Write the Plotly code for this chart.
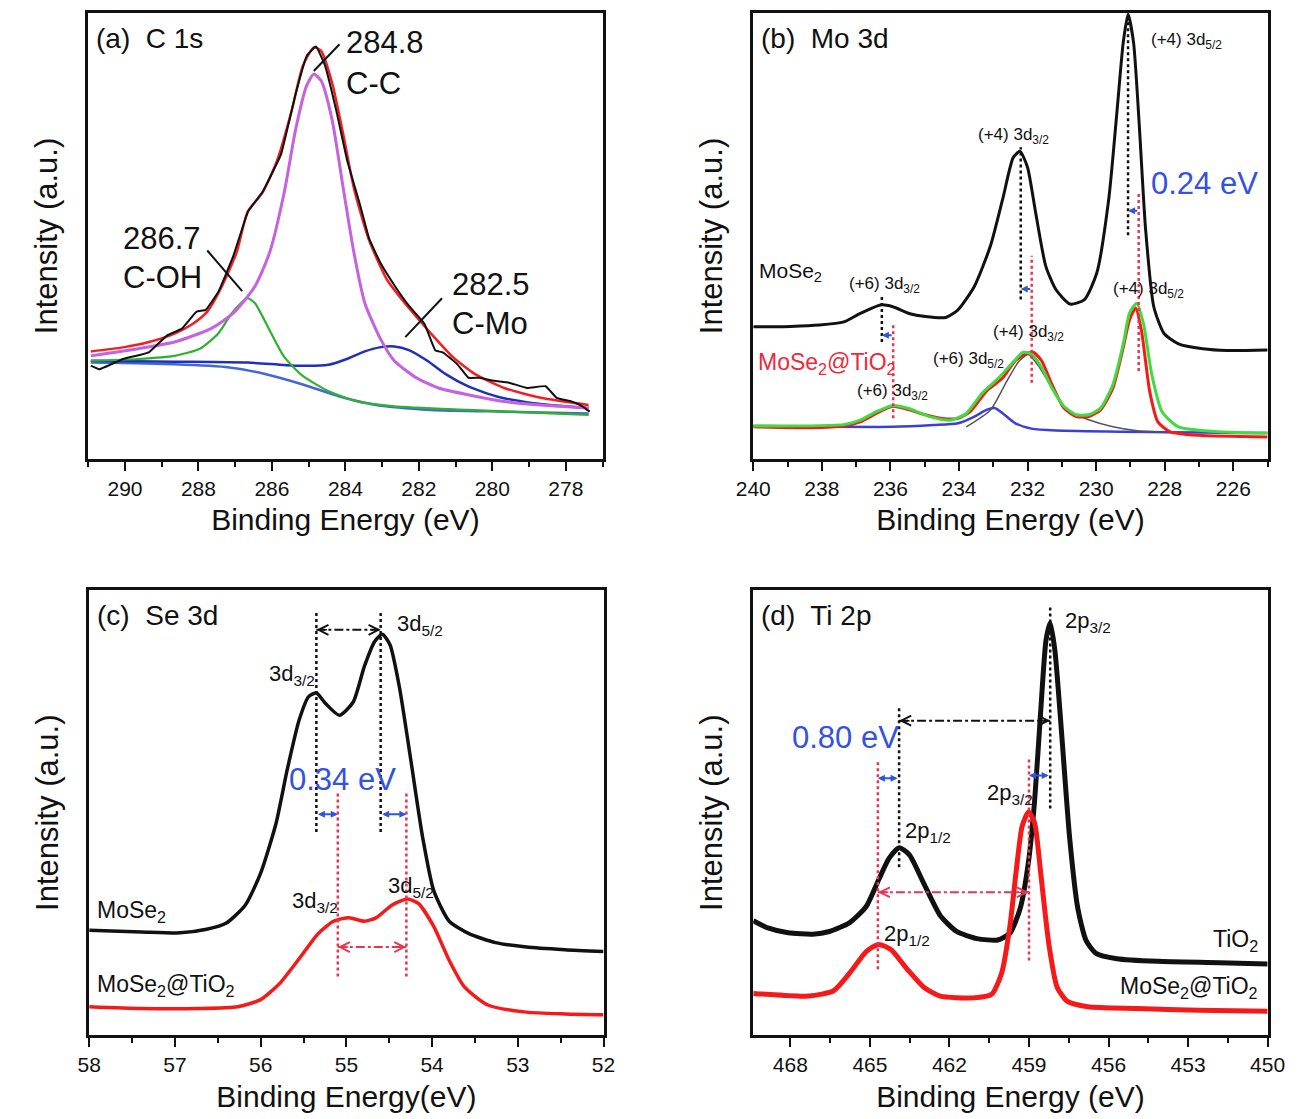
import plotly.graph_objects as go

# ---------------- data ----------------
# (a) C 1s
a_ev_raw = [290.93, 290.7, 290.05, 289.35, 288.85, 288.45, 288.05, 287.8, 287.45, 287.05, 286.65, 286.25,
            285.75, 285.35, 285.05, 284.8, 284.55, 284.25, 283.95, 283.6, 283.35, 283.05, 282.65, 282.25,
            281.85, 281.55, 281.35, 280.95, 280.65, 280.35, 279.95, 279.55, 279.05, 278.55, 278.25, 277.85,
            277.55, 277.35]
a_raw = [20.9, 20.1, 22.4, 23.9, 27.7, 29.2, 33.0, 33.4, 37.6, 45.5, 55.4, 59.9, 68.3, 81.9, 90.3, 92.4,
         88.0, 78.1, 66.8, 56.9, 49.3, 44.0, 38.7, 34.1, 30.3, 24.3, 23.9, 21.2, 18.2, 18.2, 17.5, 17.1,
         15.9, 16.3, 13.7, 12.9, 11.8, 10.6]
a_ev_fit = [290.93, 290.05, 289.35, 288.65, 288.15, 287.76, 287.36, 286.96, 286.66, 286.26, 285.86, 285.46,
            285.16, 284.86, 284.66, 284.36, 284.06, 283.77, 283.37, 282.87, 282.27, 281.67, 281.07, 280.47,
            279.68, 278.68, 277.38]
a_fit = [24.1, 25.0, 26.2, 28.1, 30.3, 33.0, 38.7, 46.3, 55.4, 59.6, 66.8, 78.1, 88.0, 92.2, 91.4, 84.2,
         72.8, 60.7, 49.3, 40.2, 33.8, 28.1, 22.8, 19.0, 15.9, 13.7, 12.1]
a_ev_cc = [290.93, 289.65, 288.65, 287.66, 287.06, 286.46, 286.06, 285.66, 285.36, 285.06, 284.86, 284.66,
           284.36, 284.06, 283.77, 283.47, 283.07, 282.67, 282.07, 281.47, 280.67, 279.68, 278.68, 277.38]
a_cc = [23.1, 24.7, 26.2, 29.2, 32.6, 38.7, 46.3, 59.9, 73.6, 83.5, 86.2, 84.7, 75.9, 60.7, 46.3, 34.9,
        27.3, 22.0, 18.2, 15.9, 14.4, 12.9, 12.1, 11.4]
a_ev_coh = [290.93, 289.65, 288.65, 287.96, 287.46, 287.06, 286.66, 286.46, 286.06, 285.66, 285.16, 284.46,
            283.67, 282.67, 280.67, 277.38]
a_coh = [22.0, 22.4, 23.1, 24.7, 28.1, 33.0, 36.0, 34.9, 28.8, 22.8, 18.6, 15.2, 12.9, 11.8, 11.0, 9.9]
a_ev_cmo = [290.93, 288.65, 286.66, 285.36, 284.46, 283.96, 283.47, 283.07, 282.67, 282.27, 281.77, 281.27,
            280.67, 279.88, 278.88, 277.38]
a_cmo = [22.0, 21.8, 21.6, 20.9, 21.1, 22.4, 24.1, 25.0, 25.2, 24.4, 22.0, 19.0, 16.3, 14.0, 12.5, 11.4]
a_ev_bg = [290.93, 288.65, 287.16, 286.16, 285.16, 284.16, 283.17, 281.67, 279.68, 277.38]
a_bg = [21.6, 21.2, 20.5, 19.0, 16.7, 14.0, 12.1, 11.0, 10.6, 10.2]

# (b) Mo 3d
b_ev_mose2 = [240.0, 238.91, 238.07, 237.36, 236.88, 236.29, 235.93, 235.46, 234.98, 234.39, 234.03, 233.55,
              233.08, 232.72, 232.42, 232.22, 232.0, 231.77, 231.47, 231.17, 230.76, 230.34, 229.98, 229.63,
              229.39, 229.21, 229.07, 228.91, 228.74, 228.56, 228.32, 228.02, 227.6, 226.89, 226.18, 225.0]
b_mose2 = [29.6, 29.7, 30.0, 30.7, 32.6, 34.5, 34.1, 32.6, 31.9, 31.7, 33.4, 38.7, 47.8, 58.4, 67.5, 68.9,
           65.3, 55.4, 43.2, 37.9, 34.7, 35.7, 41.7, 58.4, 78.1, 93.3, 99.6, 93.3, 74.4, 51.6, 34.1, 28.1,
           25.8, 24.7, 24.3, 24.4]
b_ev_comp = [240.0, 238.31, 237.36, 236.88, 236.41, 235.93, 235.46, 234.98, 234.5, 234.03, 233.67, 233.2,
             232.72, 232.36, 232.07, 231.83, 231.59, 231.29, 230.94, 230.58, 230.22, 229.87, 229.51, 229.21,
             229.03, 228.85, 228.68, 228.44, 228.2, 227.84, 227.01, 225.0]
b_comp = [7.2, 7.0, 7.4, 8.3, 10.2, 11.8, 11.0, 9.9, 9.1, 9.1, 10.6, 15.2, 18.2, 22.0, 23.5, 23.9, 22.0,
          16.7, 11.4, 9.5, 9.5, 11.0, 15.9, 25.0, 31.1, 33.8, 28.8, 15.2, 8.3, 6.1, 5.3, 4.9]
b_ev_env = [240.0, 237.36, 236.88, 236.41, 235.93, 235.46, 234.86, 234.27, 233.79, 233.32, 232.84, 232.48,
            232.13, 231.89, 231.59, 231.29, 230.94, 230.58, 230.22, 229.87, 229.51, 229.21, 229.03, 228.82,
            228.62, 228.38, 228.08, 227.6, 226.42, 225.0]
b_env = [7.4, 7.7, 8.7, 10.6, 12.0, 11.3, 9.5, 8.7, 10.2, 14.8, 18.2, 21.2, 23.9, 23.5, 20.5, 15.9, 11.8,
         9.9, 9.9, 11.4, 16.7, 25.8, 32.6, 34.9, 30.3, 19.0, 10.6, 7.2, 6.1, 5.8]
b_ev_mo6 = [240.0, 235.93, 234.74, 234.03, 233.55, 233.2, 232.96, 232.72, 232.36, 231.89, 231.17, 225.0]
b_mo6 = [7.4, 7.2, 7.6, 8.0, 9.5, 11.0, 11.4, 10.2, 8.0, 6.8, 6.4, 5.8]
b_ev_mo4 = [233.79, 233.08, 232.6, 232.24, 231.98, 231.65, 231.29, 230.82, 230.22, 229.51, 228.8, 228.0]
b_mo4 = [7.2, 11.0, 17.5, 22.0, 23.4, 20.5, 15.9, 10.8, 8.8, 7.2, 6.3, 6.0]
b_peaks_mose2 = [236.25, 232.2, 229.07]
b_peaks_tio2 = [235.92, 231.88, 228.76]

# (c) Se 3d
c_ev_mose2 = [58.0, 57.39, 56.94, 56.63, 56.4, 56.18, 56.0, 55.82, 55.69, 55.55, 55.44, 55.35, 55.24, 55.08,
              54.92, 54.79, 54.67, 54.58, 54.49, 54.38, 54.25, 54.11, 53.98, 53.8, 53.57, 53.26, 52.9, 52.45,
              52.0]
c_mose2 = [23.6, 23.2, 23.0, 23.8, 25.2, 29.2, 36.4, 47.6, 59.6, 70.8, 76.0, 76.8, 74.4, 71.8, 74.8, 82.8,
           88.4, 90.0, 87.6, 78.0, 62.0, 44.4, 32.4, 25.6, 22.8, 20.8, 19.8, 19.2, 18.8]
c_ev_comp = [58.0, 57.39, 56.72, 56.27, 56.0, 55.78, 55.55, 55.33, 55.15, 54.97, 54.79, 54.65, 54.47, 54.29,
             54.16, 53.98, 53.8, 53.62, 53.35, 52.9, 52.45, 52.0]
c_comp = [6.4, 6.0, 6.0, 6.4, 8.0, 11.6, 17.2, 22.8, 25.6, 26.4, 25.6, 26.4, 29.2, 30.6, 29.6, 24.4, 16.8,
          10.8, 6.8, 5.2, 4.8, 4.6]
c_peaks_mose2 = [55.35, 54.6]
c_peaks_comp = [55.1, 54.3]

# (d) Ti 2p
d_ev_tio2 = [469.4, 468.85, 468.08, 467.15, 466.53, 465.76, 465.14, 464.67, 464.28, 463.9, 463.51, 462.97,
             462.35, 461.73, 460.96, 460.18, 459.72, 459.33, 459.02, 458.79, 458.56, 458.36, 458.2, 458.02,
             457.78, 457.47, 457.16, 456.85, 456.47, 455.69, 454.15, 451.82, 450.0]
d_tio2 = [25.7, 24.1, 23.0, 22.7, 23.3, 25.3, 28.9, 34.9, 39.7, 42.1, 40.5, 34.1, 26.9, 23.3, 21.7, 21.4,
          22.9, 28.5, 38.9, 52.5, 72.6, 88.6, 92.6, 86.2, 68.6, 44.5, 28.5, 21.3, 18.4, 17.2, 16.6, 16.3, 16.0]
d_ev_comp = [469.4, 468.85, 467.3, 466.37, 465.76, 465.14, 464.67, 464.2, 463.59, 462.97, 462.35, 461.11,
             460.41, 460.03, 459.72, 459.49, 459.26, 459.02, 458.79, 458.56, 458.25, 457.94, 457.55, 456.78,
             454.92, 452.6, 450.0]
d_comp = [9.4, 9.2, 8.8, 10.0, 14.0, 18.8, 20.4, 19.2, 14.8, 10.8, 8.8, 8.4, 9.2, 14.0, 24.5, 36.5, 46.9,
          50.1, 47.7, 36.5, 20.4, 10.8, 7.6, 6.4, 6.0, 5.6, 5.4]
d_peaks_tio2 = [463.9, 458.2]
d_peaks_comp = [464.7, 459.0]

# ---------------- styling ----------------
W, H = 1299, 1119
FONT = "Liberation Sans, Arial, Helvetica, sans-serif"
BLACK = "#111111"
RED = "#f41a1a"
PINK = "#e8344e"
BLUE_TXT = "#3451e0"
ARROW_BLUE = "#2f55d8"

# frame boxes in pixels: left, right, top, bottom
boxes = {
    "": (64, 593, 4.5, 451),
    "2": (748, 1277, 4.5, 451),
    "3": (65, 594, 581.7, 1027.3),
    "4": (748, 1277, 581.7, 1027.3),
}
xranges = {"": [291, 277], "2": [240, 225], "3": [58, 52], "4": [469.4, 450]}
xticks = {"": (2, 1), "2": (2, 1), "3": (1, 0.5), "4": (3, 1.5)}
xtitles = {"": "Binding Energy (eV)", "2": "Binding Energy (eV)",
           "3": "Binding Energy(eV)", "4": "Binding Energy (eV)"}

fig = go.Figure()


def curve(k, xs, ys, color, width, smooth=0.6):
    fig.add_trace(go.Scatter(
        x=xs, y=ys, mode="lines", xaxis="x" + k, yaxis="y" + k,
        line=dict(color=color, width=width, shape="spline", smoothing=smooth),
        showlegend=False, hoverinfo="skip"))


def text(k, x, y, s, size, color=BLACK, xanchor="left"):
    fig.add_annotation(x=x, y=y, xref="x" + k, yref="y" + k, text=s, showarrow=False,
                       xanchor=xanchor, yanchor="middle",
                       font=dict(family=FONT, size=size, color=color))


def vline(k, x, y0, y1, color):
    fig.add_shape(type="line", xref="x" + k, yref="y" + k, x0=x, x1=x, y0=y0, y1=y1,
                  line=dict(color=color, width=2.5, dash="3px,3px"))


def seg(k, x0, y0, x1, y1, color=BLACK, width=2, dash="solid"):
    fig.add_shape(type="line", xref="x" + k, yref="y" + k, x0=x0, x1=x1, y0=y0, y1=y1,
                  line=dict(color=color, width=width, dash=dash))


def shift_arrow(k, x_from, x_to, y, both=True):
    fig.add_annotation(x=x_to, y=y, ax=x_from, ay=y, xref="x" + k, yref="y" + k,
                       axref="x" + k, ayref="y" + k, text="", showarrow=True,
                       arrowhead=2, arrowsize=0.7, arrowwidth=2, arrowcolor=ARROW_BLUE,
                       arrowside="end+start" if both else "end")


def span_arrow(k, x_left, x_right, y, color):
    # dash-dot line with open heads at both ends
    seg(k, x_left, y, x_right, y, color=color, width=2, dash="dashdot")
    for x, off in ((x_left, 12), (x_right, -12)):
        fig.add_annotation(x=x, y=y, ax=off, ay=0, xref="x" + k, yref="y" + k, text="",
                           showarrow=True, arrowhead=5, arrowsize=1.3, arrowwidth=1.5,
                           arrowcolor=color)


# (a) C 1s
curve("", a_ev_bg, a_bg, "#4466dd", 2.5)
curve("", a_ev_cmo, a_cmo, "#2030b8", 2.5)
curve("", a_ev_coh, a_coh, "#2eb12e", 2.2)
curve("", a_ev_cc, a_cc, "#c462e0", 3)
curve("", a_ev_fit, a_fit, "#f02020", 2.5)
curve("", a_ev_raw, a_raw, BLACK, 2, smooth=0.3)
seg("", 284.86, 86.9, 284.16, 92.9)
seg("", 287.76, 46.7, 286.81, 37.6)
seg("", 281.37, 36.0, 282.37, 27.3)
text("", 284.05, 93.2, "284.8", 31)
text("", 284.05, 84.0, "C-C", 31)
text("", 290.1, 49.3, "286.7", 31)
text("", 290.1, 40.6, "C-OH", 31)
text("", 281.15, 39.1, "282.5", 31)
text("", 281.15, 30.3, "C-Mo", 31)

# (b) Mo 3d
curve("2", b_ev_mo6, b_mo6, "#3a3fd8", 2.5)
curve("2", b_ev_mo4, b_mo4, "#555555", 1.5)
curve("2", b_ev_comp, b_comp, RED, 3)
curve("2", b_ev_env, b_env, "#3fdc3f", 3)
curve("2", b_ev_mose2, b_mose2, BLACK, 3)
for x, (y0, y1) in zip(b_peaks_mose2, [(26.2, 36.8), (35.7, 69.8), (50.1, 99.4)]):
    vline("2", x, y0, y1, BLACK)
for x, (y0, y1) in zip(b_peaks_tio2, [(9.1, 30.0), (17.1, 45.5), (19.7, 59.6)]):
    vline("2", x, y0, y1, PINK)
for xb, xr, y in zip(b_peaks_mose2, b_peaks_tio2, [27.7, 38.1, 55.6]):
    shift_arrow("2", xr, xb, y, both=False)
text("2", 228.45, 93.7, "(+4) 3d<sub>5/2</sub>", 17)
text("2", 233.49, 72.3, "(+4) 3d<sub>3/2</sub>", 17)
text("2", 228.45, 61.6, "0.24 eV", 31, BLUE_TXT)
text("2", 239.88, 41.9, "MoSe<sub>2</sub>", 21)
text("2", 237.28, 38.9, "(+6) 3d<sub>3/2</sub>", 17)
text("2", 229.57, 37.9, "(+4) 3d<sub>5/2</sub>", 17)
text("2", 233.08, 28.3, "(+4) 3d<sub>3/2</sub>", 17)
text("2", 234.83, 22.2, "(+6) 3d<sub>5/2</sub>", 17)
text("2", 239.92, 21.4, "MoSe<sub>2</sub>@TiO<sub>2</sub>", 23, "#f0283c")
text("2", 237.03, 15.0, "(+6) 3d<sub>3/2</sub>", 17)

# (c) Se 3d
curve("3", c_ev_mose2, c_mose2, BLACK, 3.5)
curve("3", c_ev_comp, c_comp, RED, 3.5)
for x in c_peaks_mose2:
    vline("3", x, 45.6, 94.8, BLACK)
for x in c_peaks_comp:
    vline("3", x, 13.2, 54.4, PINK)
for xb, xr in zip(c_peaks_mose2, c_peaks_comp):
    shift_arrow("3", xb, xr, 49.6)
span_arrow("3", c_peaks_mose2[0], c_peaks_mose2[1], 91.0, BLACK)
span_arrow("3", c_peaks_comp[0], c_peaks_comp[1], 19.8, PINK)
text("3", 54.43, 92.0, "3d<sub>5/2</sub>", 22)
text("3", 55.92, 80.8, "3d<sub>3/2</sub>", 22)
text("3", 55.69, 57.4, "0.34 eV", 31, BLUE_TXT)
text("3", 54.54, 33.2, "3d<sub>5/2</sub>", 22)
text("3", 55.66, 30.0, "3d<sub>3/2</sub>", 22)
text("3", 57.93, 27.8, "MoSe<sub>2</sub>", 23)
text("3", 57.93, 11.2, "MoSe<sub>2</sub>@TiO<sub>2</sub>", 23)

# (d) Ti 2p
curve("4", d_ev_tio2, d_tio2, BLACK, 5)
curve("4", d_ev_comp, d_comp, RED, 5)
for x, (y0, y1) in zip(d_peaks_tio2, [(37.7, 73.4), (50.9, 96.6)]):
    vline("4", x, y0, y1, BLACK)
for x, (y0, y1) in zip(d_peaks_comp, [(14.8, 61.3), (16.8, 62.1)]):
    vline("4", x, y0, y1, PINK)
for xb, xr, y in zip(d_peaks_tio2, d_peaks_comp, [57.7, 58.3]):
    shift_arrow("4", xb, xr, y)
span_arrow("4", d_peaks_tio2[0], d_peaks_tio2[1], 70.6, BLACK)
span_arrow("4", d_peaks_comp[0], d_peaks_comp[1], 32.1, PINK)
text("4", 457.71, 92.8, "2p<sub>3/2</sub>", 22)
text("4", 468.0, 66.8, "0.80 eV", 31, BLUE_TXT)
text("4", 460.65, 54.1, "2p<sub>3/2</sub>", 22)
text("4", 463.74, 45.7, "2p<sub>1/2</sub>", 22)
text("4", 464.55, 22.5, "2p<sub>1/2</sub>", 22)
text("4", 450.3, 21.3, "TiO<sub>2</sub>", 23, xanchor="right")
text("4", 450.3, 10.7, "MoSe<sub>2</sub>@TiO<sub>2</sub>", 23, xanchor="right")

# panel tags and y titles
tags = {"": "(a)  C 1s", "2": "(b)  Mo 3d", "3": "(c)  Se 3d", "4": "(d)  Ti 2p"}
layout = {}
for k, (l, r, t, b) in boxes.items():
    lo, dt = xticks[k]
    layout["xaxis" + k] = dict(
        domain=[l / W, r / W], range=xranges[k], anchor="y" + k,
        tickmode="linear", tick0=450 if k == "4" else 0, dtick=lo,
        ticks="outside", ticklen=9, tickwidth=2, tickcolor=BLACK,
        minor=dict(ticks="outside", ticklen=5, tickwidth=2, tickcolor=BLACK, dtick=dt,
                   tick0=450 if k == "4" else 0),
        showline=True, linewidth=2.5, linecolor=BLACK, mirror=True,
        showgrid=False, zeroline=False,
        tickfont=dict(family=FONT, size=21, color=BLACK),
        title=dict(text=xtitles[k], font=dict(family=FONT, size=30, color=BLACK), standoff=11))
    layout["yaxis" + k] = dict(
        domain=[1 - b / H, 1 - t / H], range=[0, 100], anchor="x" + k,
        showticklabels=False, ticks="", showline=True, linewidth=2.5, linecolor=BLACK,
        mirror=True, showgrid=False, zeroline=False)
    fig.add_annotation(x=(l + 0.012 * (r - l)) / W, y=1 - (t + 0.058 * (b - t)) / H,
                       xref="paper", yref="paper", text=tags[k], showarrow=False,
                       xanchor="left", yanchor="middle",
                       font=dict(family=FONT, size=28, color=BLACK))
    fig.add_annotation(x=(l - 43) / W, y=1 - (t + b) / 2 / H, xref="paper", yref="paper",
                       text="Intensity (a.u.)", textangle=-90, showarrow=False,
                       xanchor="center", yanchor="middle",
                       font=dict(family=FONT, size=31, color=BLACK))

fig.update_layout(width=W, height=H, margin=dict(l=0, r=0, t=0, b=0),
                  paper_bgcolor="white", plot_bgcolor="white", showlegend=False, **layout)

fig.write_html("out.html")
